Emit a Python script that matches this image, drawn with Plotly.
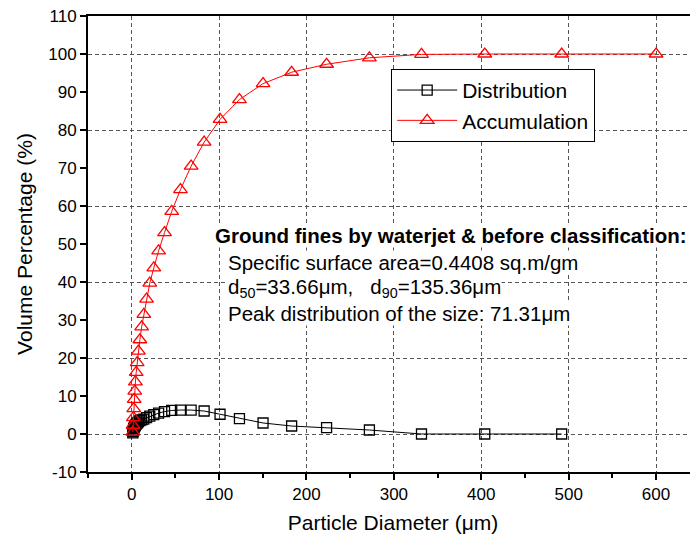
import plotly.graph_objects as go

# Particle diameters (um)
acc_x = [1.29, 1.58, 1.92, 2.34, 2.86, 3.48, 4.24, 5.17, 6.31, 7.69, 9.37, 11.4,
         13.9, 17.0, 20.7, 25.3, 30.8, 37.6, 45.8, 55.8, 68.0, 82.9, 101.1, 123.3,
         150.3, 183.0, 223.0, 272.0, 331.6, 404.0, 492.0, 600.0]
acc_y = [0.5, 2.3, 4.3, 6.7, 9.1, 11.3, 13.7, 16.2, 18.8, 21.8, 24.8, 28.2,
         31.5, 35.5, 39.7, 43.7, 48.2, 53.0, 58.6, 64.3, 70.5, 76.8, 82.8, 88.0,
         92.2, 95.2, 97.3, 99.0, 99.9, 100.0, 100.0, 100.0]

dist_x = [1.29, 1.58, 1.92, 2.34, 2.86, 3.48, 4.24, 5.17, 6.31, 7.69, 9.37, 11.4,
          13.9, 17.0, 20.7, 25.3, 30.8, 37.6, 45.8, 55.8, 68.0, 82.9, 101.1, 123.3,
          150.3, 183.0, 223.0, 272.0, 331.6, 404.0, 492.0]
dist_y = [0.3, 0.6, 1.0, 1.4, 1.7, 2.0, 2.3, 2.6, 2.9, 3.2, 3.5, 3.7,
          3.9, 4.3, 4.7, 5.1, 5.5, 5.9, 6.2, 6.3, 6.3, 6.05, 5.2, 4.05,
          2.9, 2.1, 1.7, 1.05, 0.0, 0.0, 0.0]

y_tickvals = [-10, 0, 10, 20, 30, 40, 50, 60, 70, 80, 90, 100, 110]
y_ticktext = ["-10", "0", "10", "20", "30", "40", "50", "60", "70", "80", "90", "100", "110"]

FONT = "Liberation Sans, Arial, sans-serif"

fig = go.Figure()
fig.add_trace(go.Scatter(
    x=dist_x, y=dist_y, name="Distribution", mode="lines+markers",
    line=dict(color="black", width=1),
    marker=dict(symbol="square-open", size=10, color="black", line=dict(width=1.3)),
))
fig.add_trace(go.Scatter(
    x=acc_x, y=acc_y, name="Accumulation", mode="lines+markers",
    line=dict(color="red", width=1),
    marker=dict(symbol="triangle-up-open", size=12, color="red", line=dict(width=1.3)),
))
# invisible trace to activate the overlay grid axis
fig.add_trace(go.Scatter(x=[None], y=[None], yaxis="y2", showlegend=False, hoverinfo="skip"))

grid = dict(gridcolor="#555555", griddash="4px,3px", gridwidth=1)

# page body has an 8px margin: figure is 690x534 so it fits the 698x542 window
fig.update_layout(
    width=690, height=534,
    margin=dict(l=80, r=0, t=8, b=70, autoexpand=False),
    paper_bgcolor="white", plot_bgcolor="white",
    font=dict(family=FONT, size=17, color="black"),
    showlegend=True,
    legend=dict(x=0.497, y=0.884, xanchor="left", yanchor="top",
                bordercolor="black", borderwidth=1, bgcolor="white",
                font=dict(size=21), tracegroupgap=0, itemwidth=60),
    xaxis=dict(range=[-50, 648], tick0=0, dtick=100, showgrid=True, **grid,
               zeroline=False, showline=True, linecolor="black", linewidth=2,
               mirror=True, ticks="outside", ticklen=6, tickwidth=2, tickcolor="black",
               automargin=False, ticklabeloverflow="allow",
               minor=dict(dtick=50, tick0=0, ticks="outside", ticklen=4, tickwidth=2,
                          tickcolor="black", showgrid=False),
               title=dict(text="Particle Diameter (\u03bcm)", font=dict(size=21), standoff=12)),
    yaxis=dict(range=[-10, 110], tickvals=y_tickvals, ticktext=y_ticktext,
               showgrid=False, zeroline=False, automargin=False,
               ticklabeloverflow="allow",
               showline=True, linecolor="black", linewidth=2, mirror=False,
               ticks="outside", ticklen=6, tickwidth=2, tickcolor="black",
               title=dict(text="Volume Percentage (%)", font=dict(size=21), standoff=10)),
    yaxis2=dict(range=[-10, 110], tick0=0, dtick=20, overlaying="y", side="left",
                showgrid=True, **grid, zeroline=False, showticklabels=False,
                ticks="", showline=False, automargin=False),
)

lines = [
    ("<b>Ground fines by waterjet &amp; before classification:</b>", 214, 236),
    ("Specific surface area=0.4408 sq.m/gm", 227, 262),
    ("d<sub>50</sub>=33.66\u03bcm,\u00a0\u00a0\u00a0d<sub>90</sub>=135.36\u03bcm", 227, 288),
    ("Peak distribution of the size: 71.31\u03bcm", 227, 314),
]
for txt, px, py in lines:
    fig.add_annotation(text=txt, xref="paper", yref="paper",
                       x=(px - 88) / 610, y=(472 - py) / 456,
                       xanchor="left", yanchor="middle", showarrow=False,
                       bgcolor="white", borderpad=0, font=dict(size=20.5, family=FONT))

fig.write_html("out.html")
